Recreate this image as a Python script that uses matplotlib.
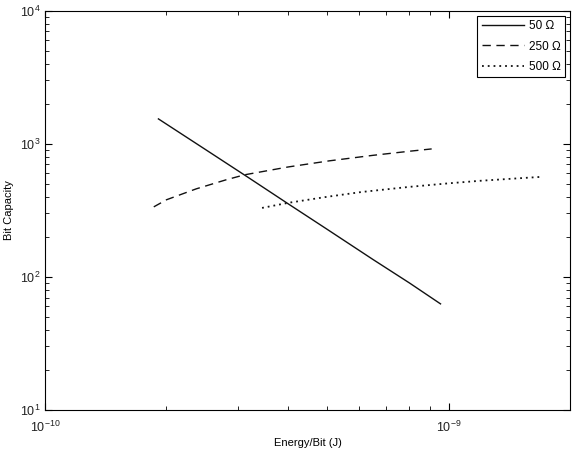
import matplotlib
matplotlib.use('Agg')
import matplotlib.pyplot as plt
from matplotlib.ticker import LogLocator, NullFormatter

plt.rcParams['font.family'] = ['Liberation Sans', 'DejaVu Sans']
plt.rcParams['mathtext.fontset'] = 'custom'
plt.rcParams['mathtext.rm'] = 'Liberation Sans'

# 50 Ohm (solid)
energy_50 = [1.91e-10, 2.5e-10, 3.2e-10, 4.0e-10, 5.0e-10, 6.5e-10, 8.0e-10, 9.55e-10]
cap_50 = [1540, 905, 555, 355, 228, 135, 90, 62.7]

# 250 Ohm (dashed)
energy_250 = [1.86e-10, 2.0e-10, 2.37e-10, 2.8e-10, 3.12e-10, 4.0e-10, 5.06e-10, 6.5e-10, 8.0e-10, 9.08e-10]
cap_250 = [336, 380, 459, 535, 585, 670, 745, 820, 880, 916]

# 500 Ohm (dotted)
energy_500 = [3.45e-10, 4.0e-10, 5.0e-10, 6.1e-10, 8.0e-10, 1.0e-9, 1.19e-9, 1.45e-9, 1.70e-9]
cap_500 = [330, 360, 400, 435, 475, 505, 527, 548, 565]

labels = ['50 \u03a9', '250 \u03a9', '500 \u03a9']

fig = plt.figure(figsize=(5.77, 4.5), dpi=100)
ax = fig.add_axes([0.078, 0.089, 0.910, 0.887])

ax.loglog(energy_50, cap_50, color='#111111', linewidth=1.0, linestyle='-', label=labels[0])
ax.loglog(energy_250, cap_250, color='#111111', linewidth=1.0, linestyle=(0, (6, 4)), label=labels[1])
ax.loglog(energy_500, cap_500, color='#111111', linewidth=1.3, linestyle=(0, (1, 2.2)), label=labels[2])

ax.set_xlim(1e-10, 2e-9)
ax.set_ylim(1e1, 1e4)

ax.xaxis.set_minor_locator(LogLocator(base=10, subs=range(2, 10)))
ax.yaxis.set_minor_locator(LogLocator(base=10, subs=range(2, 10)))
ax.xaxis.set_minor_formatter(NullFormatter())
ax.yaxis.set_minor_formatter(NullFormatter())

ax.tick_params(which='both', direction='in', top=True, right=True, labelsize=9,
               labelcolor='#222222')
ax.tick_params(axis='x', which='major', pad=7)
ax.tick_params(which='major', length=5)
ax.tick_params(which='minor', length=3)
for s in ax.spines.values():
    s.set_linewidth(0.8)

ax.set_xlabel('Energy/Bit (J)', fontsize=8, labelpad=2)
ax.set_ylabel('Bit Capacity', fontsize=8)

leg = ax.legend(loc='upper right', fontsize=8.5, fancybox=False, framealpha=1,
                edgecolor='black', handlelength=3.6, handletextpad=0.4,
                labelspacing=0.7, borderaxespad=0.4)
leg.get_frame().set_linewidth(0.8)

fig.savefig('out.png', dpi=100, facecolor='white')
